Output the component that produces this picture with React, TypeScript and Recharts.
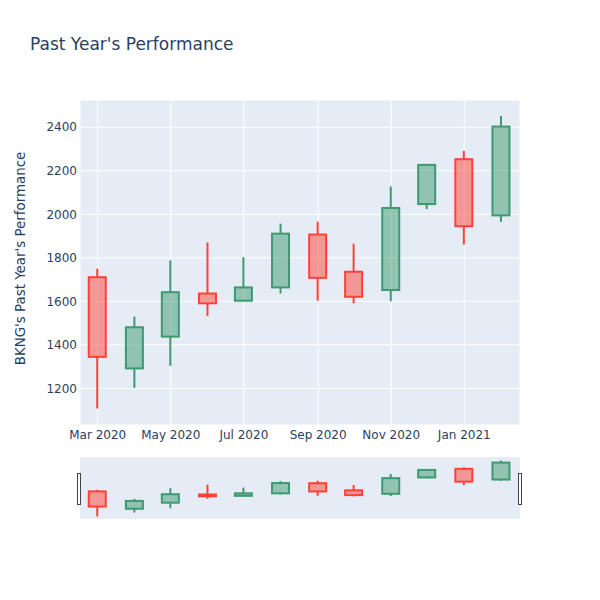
import { ComposedChart, Bar, XAxis, YAxis, CartesianGrid } from "recharts";

const DATES = [
  "2020-03-01", "2020-04-01", "2020-05-01", "2020-06-01", "2020-07-01", "2020-08-01",
  "2020-09-01", "2020-10-01", "2020-11-01", "2020-12-01", "2021-01-01", "2021-02-01",
];
const OPEN = [1711, 1292, 1438, 1636, 1603, 1664, 1907, 1736, 1652, 2047, 2253, 1995];
const HIGH = [1750, 1530, 1788, 1871, 1803, 1957, 1966, 1865, 2128, 2229, 2291, 2452];
const LOW = [1108, 1203, 1304, 1533, 1600, 1636, 1603, 1591, 1600, 2024, 1861, 1965];
const CLOSE = [1345, 1481, 1642, 1591, 1664, 1911, 1708, 1621, 2029, 2227, 1945, 2403];

const X_TICKS = ["2020-03-01", "2020-05-01", "2020-07-01", "2020-09-01", "2020-11-01", "2021-01-01"];
const X_TICK_LABELS = ["Mar 2020", "May 2020", "Jul 2020", "Sep 2020", "Nov 2020", "Jan 2021"];
const Y_TICKS = [1200, 1400, 1600, 1800, 2000, 2200, 2400];

const INC = "#3D9970";
const DEC = "#FF4136";
const TEXT = "#2a3f5f";
const FONT = "'DejaVu Sans', verdana, arial, sans-serif";

const X_MIN = Date.parse("2020-02-15T05:00:00Z");
const X_MAX = Date.parse("2021-02-16T12:00:00Z");

const data = DATES.map((d, i) => ({
  t: Date.parse(d + "T00:00:00Z"),
  open: OPEN[i],
  high: HIGH[i],
  low: LOW[i],
  close: CLOSE[i],
}));
const tickValues = X_TICKS.map((d) => Date.parse(d + "T00:00:00Z"));

// one candle: wick + half-transparent body, scaled inside the [low, high] bar box
const Candle = (props: any) => {
  const { x, y, width, height, payload } = props;
  if (!payload) return null;
  const { open, close, high, low } = payload;
  const color = close >= open ? INC : DEC;
  const yTop = Math.min(y, y + height);
  const yBot = Math.max(y, y + height);
  const k = (yBot - yTop) / (high - low || 1);
  const yo = yTop + (high - open) * k;
  const yc = yTop + (high - close) * k;
  const bTop = Math.min(yo, yc);
  const bBot = Math.max(yo, yc);
  const cx = x + width / 2;
  return (
    <g>
      <line x1={cx} x2={cx} y1={yTop} y2={bTop} stroke={color} strokeWidth={2} />
      <line x1={cx} x2={cx} y1={bBot} y2={yBot} stroke={color} strokeWidth={2} />
      <rect
        x={x}
        y={bTop}
        width={width}
        height={Math.max(bBot - bTop, 0.5)}
        fill={color}
        fillOpacity={0.5}
        stroke={color}
        strokeWidth={2}
      />
    </g>
  );
};

const tickStyle = { fill: TEXT, fontSize: 12, fontFamily: FONT };

const handleStyle = (left: number): React.CSSProperties => ({
  position: "absolute",
  left,
  top: 473,
  width: 2,
  height: 30,
  border: "1px solid #444",
  background: "#fff",
});

export default function App() {
  return (
    <div style={{ position: "absolute", left: 0, top: 0, width: 600, height: 600, background: "#fff" }}>
      <ComposedChart
        width={600}
        height={600}
        data={data}
        margin={{ top: 100, right: 80, bottom: 145, left: 30 }}
      >
        <CartesianGrid fill="#E5ECF6" stroke="#fff" strokeWidth={1} />
        <XAxis
          type="number"
          dataKey="t"
          domain={[X_MIN, X_MAX]}
          ticks={tickValues}
          tickFormatter={(v: number) => X_TICK_LABELS[tickValues.indexOf(v)] ?? ""}
          allowDataOverflow
          axisLine={false}
          tickLine={false}
          tickSize={0}
          tickMargin={5}
          height={30}
          tick={tickStyle}
          interval={0}
        />
        <YAxis
          type="number"
          domain={[1032, 2525]}
          ticks={Y_TICKS}
          allowDataOverflow
          axisLine={false}
          tickLine={false}
          tickSize={0}
          tickMargin={3}
          width={50}
          tick={tickStyle}
          interval={0}
        />
        <Bar
          dataKey={(d: any) => [d.low, d.high]}
          barSize={17}
          shape={<Candle />}
          isAnimationActive={false}
        />
      </ComposedChart>

      {/* range slider */}
      <div style={{ position: "absolute", left: 80, top: 457, width: 440, height: 62, background: "#E5ECF6" }}>
        <ComposedChart width={440} height={62} data={data} margin={{ top: 0, right: 0, bottom: 0, left: 0 }}>
          <XAxis type="number" dataKey="t" domain={[X_MIN, X_MAX]} allowDataOverflow hide />
          <YAxis type="number" domain={[1046, 2538]} allowDataOverflow hide />
          <Bar
            dataKey={(d: any) => [d.low, d.high]}
            barSize={17}
            shape={<Candle />}
            isAnimationActive={false}
          />
        </ComposedChart>
      </div>
      <div style={handleStyle(77)} />
      <div style={handleStyle(518)} />

      <svg
        width={600}
        height={600}
        style={{ position: "absolute", left: 0, top: 0, pointerEvents: "none" }}
      >
        <text x={30} y={50} fill={TEXT} fontSize={17} fontFamily={FONT}>
          Past Year's Performance
        </text>
        <text
          x={25}
          y={258.5}
          fill={TEXT}
          fontSize={13.4}
          fontFamily={FONT}
          textAnchor="middle"
          transform="rotate(-90 25 258.5)"
        >
          BKNG's Past Year's Performance
        </text>
      </svg>
    </div>
  );
}
